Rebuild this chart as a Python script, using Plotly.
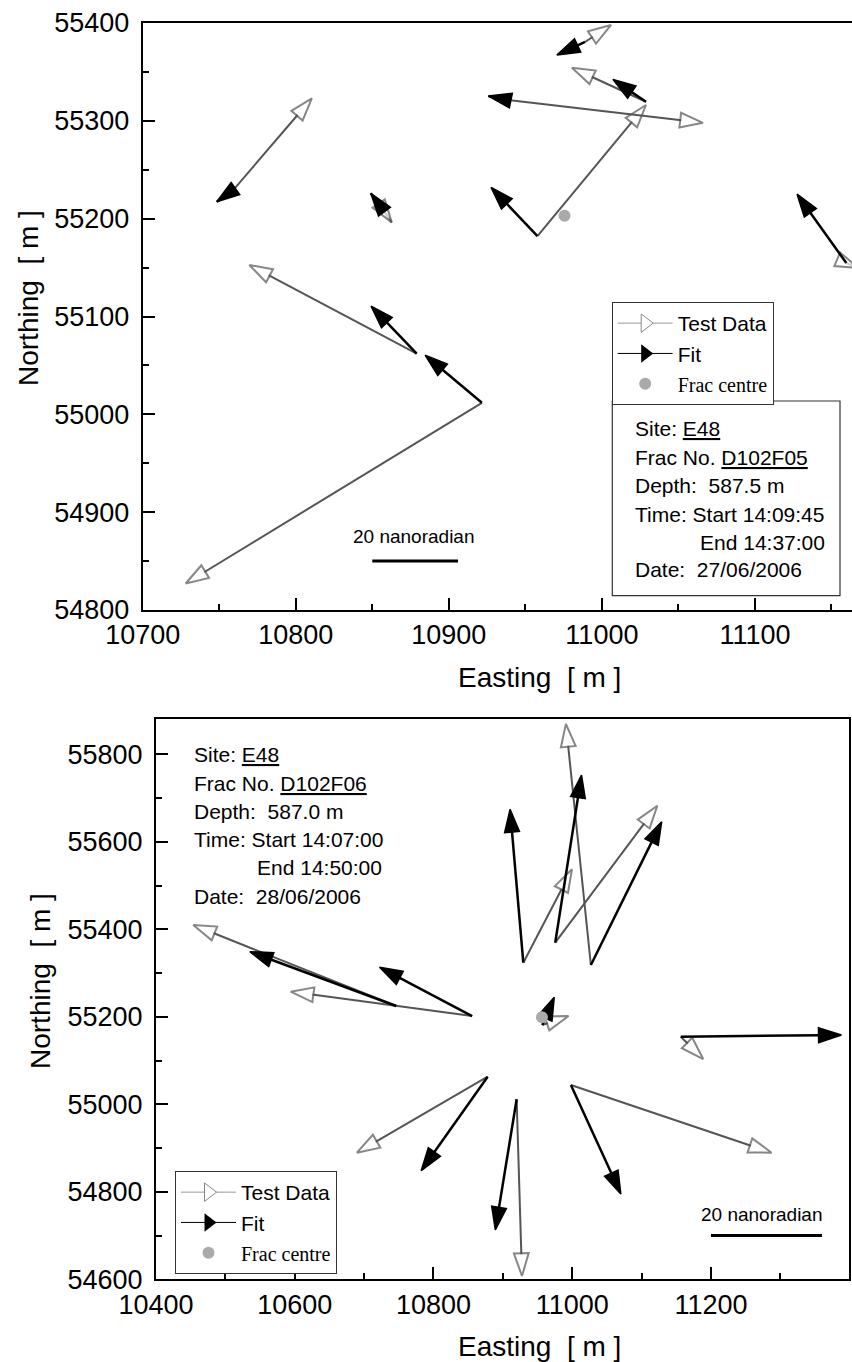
import plotly.graph_objects as go

# ---------------- Top panel: Frac D102F05 ----------------
top_station_x = [10759, 10855.7, 10879, 10921.6, 10957.9, 10938.8, 11028.8, 10989, 11159.7]
top_station_y = [55229, 55211.9, 55062, 55011.8, 55182.2, 55321.3, 55319.5, 55380.6, 55154.6]
top_test_x = [10810.5, 10862.7, 10769.7, 10728.1, 11028.8, 11066, 10980.4, 11006, 11167.5]
top_test_y = [55323, 55196.2, 55152.6, 54827.1, 55316.2, 55298, 55354.3, 55398, 55149.5]
top_fit_x = [10748.4, 10849, 10849.2, 10884.5, 10927.6, 10925.9, 11007.2, 10970.6, 11127.5]
top_fit_y = [55217.3, 55225.9, 55110.6, 55060.5, 55232, 55325.4, 55342.4, 55367.3, 55225]
top_centre_x = [10975.6]
top_centre_y = [55203]

# ---------------- Bottom panel: Frac D102F06 ----------------
bot_station_x = [10929.5, 10975.5, 11026.9, 10746.3, 10855.7, 10956.8, 11156.4, 10998.1, 10919.9, 10878.1]
bot_station_y = [55323.7, 55369.4, 55318.4, 55224.7, 55201.8, 55181.3, 55154.5, 55044.1, 55011.4, 55063.1]
bot_test_x = [10999.6, 11122.7, 10990.9, 10453.7, 10594.2, 10994.7, 11188.9, 11287.3, 10927.6, 10689.6]
bot_test_y = [55537.1, 55682.5, 55869.3, 55409.8, 55257.4, 55201.8, 55103.5, 54889.4, 54607.5, 54889.4]
bot_fit_x = [10910.4, 11013.4, 11129, 10535.3, 10722.3, 10974.1, 11388, 11070.1, 10889.2, 10782.3]
bot_fit_y = [55674.3, 55752.7, 55645.9, 55348.8, 55313.1, 55244.6, 55158.4, 54795, 54712.7, 54848.2]
bot_centre_x = [10956.4]
bot_centre_y = [55198.9]

# scale bars (20 nanoradian)
top_bar_x = [10850, 10906]
top_bar_y = 54850
bot_bar_x = [11200, 11360]
bot_bar_y = 54700

top_info = ["Site: <u>E48</u>", "Frac No. <u>D102F05</u>", "Depth:  587.5 m",
            "Time: Start 14:09:45", "End 14:37:00", "Date:  27/06/2006"]
bot_info = ["Site: <u>E48</u>", "Frac No. <u>D102F06</u>", "Depth:  587.0 m",
            "Time: Start 14:07:00", "End 14:50:00", "Date:  28/06/2006"]

SANS = "Liberation Sans"
TEST_COL = "#555555"
FIT_COL = "#000000"
CENTRE_COL = "#aaaaaa"
HEAD = 24

W, H = 852, 1362

fig = go.Figure()


def add_arrows(sx, sy, ex, ey, xa, ya, kind):
    for x0, y0, x1, y1 in zip(sx, sy, ex, ey):
        if kind == "test":
            marker = dict(symbol="arrow", size=[0, HEAD], angleref="previous",
                          color="white", line=dict(color=TEST_COL, width=2))
            line = dict(color=TEST_COL, width=2)
        else:
            marker = dict(symbol="arrow", size=[0, HEAD], angleref="previous",
                          color=FIT_COL, opacity=1, line=dict(color=FIT_COL, width=1.5))
            line = dict(color=FIT_COL, width=2.5)
        fig.add_trace(go.Scatter(x=[x0, x1], y=[y0, y1], mode="lines+markers",
                                 line=line, marker=marker, xaxis=xa, yaxis=ya,
                                 showlegend=False, hoverinfo="skip"))


add_arrows(top_station_x, top_station_y, top_test_x, top_test_y, "x", "y", "test")
add_arrows(top_station_x, top_station_y, top_fit_x, top_fit_y, "x", "y", "fit")
add_arrows(bot_station_x, bot_station_y, bot_test_x, bot_test_y, "x2", "y2", "test")
add_arrows(bot_station_x, bot_station_y, bot_fit_x, bot_fit_y, "x2", "y2", "fit")

# frac centres + legends
for cx, cy, xa, ya, lg in [(top_centre_x, top_centre_y, "x", "y", "legend"),
                           (bot_centre_x, bot_centre_y, "x2", "y2", "legend2")]:
    fig.add_trace(go.Scatter(x=[None], y=[None], mode="lines+markers", xaxis=xa, yaxis=ya,
                             name="Test Data", legend=lg,
                             line=dict(color="#999999", width=1),
                             marker=dict(symbol="triangle-right", size=16, color="white",
                                         line=dict(color="#888888", width=1))))
    fig.add_trace(go.Scatter(x=[None], y=[None], mode="lines+markers", xaxis=xa, yaxis=ya,
                             name="Fit", legend=lg,
                             line=dict(color="#000000", width=1),
                             marker=dict(symbol="triangle-right", size=16, color="black")))
    fig.add_trace(go.Scatter(x=cx, y=cy, mode="markers", xaxis=xa, yaxis=ya,
                             name='<span style="font-family:Liberation Serif;font-size:20px;">Frac centre</span>',
                             legend=lg,
                             marker=dict(symbol="circle", size=12, color=CENTRE_COL)))

# scale bars
fig.add_shape(type="line", xref="x", yref="y", x0=top_bar_x[0], x1=top_bar_x[1],
              y0=top_bar_y, y1=top_bar_y, line=dict(color="black", width=3))
fig.add_shape(type="line", xref="x2", yref="y2", x0=bot_bar_x[0], x1=bot_bar_x[1],
              y0=bot_bar_y, y1=bot_bar_y, line=dict(color="black", width=3))
fig.add_annotation(xref="x", yref="y", x=10877, y=54875, text="20 nanoradian",
                   showarrow=False, xanchor="center", yanchor="middle",
                   font=dict(family=SANS, size=19, color="black"))
fig.add_annotation(xref="x2", yref="y2", x=11273, y=54748, text="20 nanoradian",
                   showarrow=False, xanchor="center", yanchor="middle",
                   font=dict(family=SANS, size=19, color="black"))


def px(x):
    return x / W


def py(y):
    return 1 - y / H


# info box (top panel)
fig.add_shape(type="rect", xref="paper", yref="paper", x0=px(612.3), x1=px(840),
              y0=py(401), y1=py(595.7), line=dict(color="#333333", width=1.2),
              fillcolor="white", layer="below")

top_lines_y = [428.3, 457.5, 485.7, 514, 542.3, 570]
top_lines_x = [633.3, 633.3, 633.3, 633.3, 697.7, 633.3]
for t, xx, yy in zip(top_info, top_lines_x, top_lines_y):
    fig.add_annotation(xref="paper", yref="paper", x=px(xx), y=py(yy), text=t,
                       showarrow=False, xanchor="left", yanchor="middle",
                       font=dict(family=SANS, size=21, color="black"))

bot_lines_y = [754.3, 783.3, 811, 839.3, 867.7, 896]
bot_lines_x = [191.7, 191.7, 191.7, 191.7, 255, 191.7]
for t, xx, yy in zip(bot_info, bot_lines_x, bot_lines_y):
    fig.add_annotation(xref="paper", yref="paper", x=px(xx), y=py(yy), text=t,
                       showarrow=False, xanchor="left", yanchor="middle",
                       font=dict(family=SANS, size=21, color="black"))

# axis titles
title_font = dict(family=SANS, size=28, color="black")
for tx, ty, txt, ang in [(539, 677, "Easting  [ m ]", 0),
                         (539, 1346, "Easting  [ m ]", 0),
                         (28, 298, "Northing  [ m ]", -90),
                         (40, 981, "Northing  [ m ]", -90)]:
    fig.add_annotation(xref="paper", yref="paper", x=px(tx), y=py(ty), text=txt,
                       showarrow=False, textangle=ang, xanchor="center", yanchor="middle",
                       font=title_font)

tick_font = dict(family=SANS, size=27, color="black")
axis_common = dict(showgrid=False, zeroline=False, showline=True, linecolor="black",
                   linewidth=2, ticks="inside", ticklen=12, tickwidth=2, tickcolor="black",
                   tickfont=tick_font, tickformat="d", automargin=False)
minor_common = dict(ticks="inside", ticklen=6, tickwidth=2, tickcolor="black", showgrid=False)

fig.update_layout(
    template="none",
    width=W, height=H, margin=dict(l=0, r=0, t=0, b=0, autoexpand=False),
    paper_bgcolor="white", plot_bgcolor="white",
    font=dict(family=SANS, color="black"),
    xaxis=dict(domain=[px(142.7), 1.0], range=[10700, 11163.4], dtick=100,
               mirror=True, anchor="y", minor=dict(dtick=50, **minor_common),
               **axis_common),
    yaxis=dict(domain=[py(610), py(23)], range=[54800, 55400], dtick=100,
               mirror=False, anchor="x", ticklabelstandoff=6,
               minor=dict(dtick=50, **minor_common), **axis_common),
    xaxis2=dict(domain=[px(156), px(849)], range=[10400, 11399], dtick=200,
                mirror=True, anchor="y2",
                minor=dict(dtick=100, **minor_common), **axis_common),
    yaxis2=dict(domain=[py(1279.3), py(719)], range=[54600, 55880.7], dtick=200,
                mirror=True, anchor="x2", ticklabelstandoff=6,
                minor=dict(dtick=100, **minor_common), **axis_common),
    legend=dict(x=px(611.7), y=py(302), xanchor="left", yanchor="top",
                bgcolor="white", bordercolor="#333333", borderwidth=1,
                font=dict(family=SANS, size=21, color="black"), itemwidth=55,
                tracegroupgap=0),
    legend2=dict(x=px(175), y=py(1171), xanchor="left", yanchor="top",
                 bgcolor="white", bordercolor="#333333", borderwidth=1,
                 font=dict(family=SANS, size=21, color="black"), itemwidth=55,
                 tracegroupgap=0),
    showlegend=True,
)

fig.write_html("out.html", config={"displayModeBar": False},
               post_script="document.body.style.margin='0px';")
